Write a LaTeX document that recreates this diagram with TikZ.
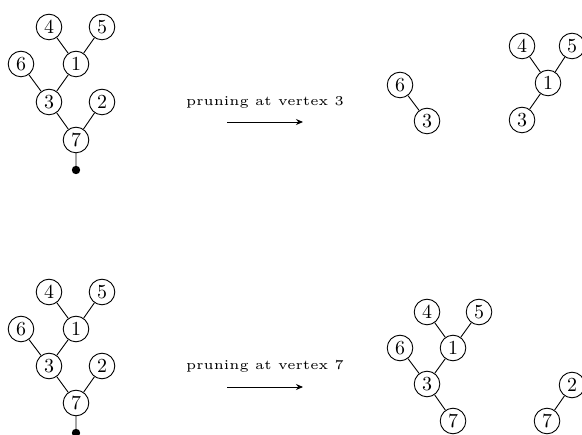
\documentclass[tikz,border=0pt]{standalone}
\usetikzlibrary{arrows.meta}
\begin{document}
\begin{tikzpicture}[x=0.5bp,y=-0.5bp,
  vtx/.style={circle,draw,line width=0.45pt,minimum size=12.8bp,inner sep=0pt,font=\normalsize},
  edge/.style={line width=0.45pt},
  rootdot/.style={circle,fill,inner sep=0pt,minimum size=4.2bp},
  lbl/.style={font=\tiny,inner sep=0pt,scale=1.36},
  arr/.style={line width=0.45pt,-{Stealth[length=3.5bp,width=3bp]}}]
\useasboundingbox (0,0) rectangle (582,435);
\clip (0,0) rectangle (582,435);
% top-left tree
\node[vtx] (a4) at (49,27) {4};
\node[vtx] (a5) at (102,27) {5};
\node[vtx] (a6) at (21,64) {6};
\node[vtx] (a1) at (76,64) {1};
\node[vtx] (a3) at (49,102) {3};
\node[vtx] (a2) at (102,102) {2};
\node[vtx] (a7) at (76,140) {7};
\node[rootdot] (ad) at (76,170) {};
\draw[edge] (a4) -- (a1) (a5) -- (a1) (a1) -- (a3) (a6) -- (a3) (a3) -- (a7) (a2) -- (a7) (a7) -- (ad.center);
% top arrow
\node[lbl] (t1) at (265,102) {pruning at vertex 3};
\coordinate (t1s) at (227,122);
\coordinate (t1e) at (303,122);
\draw[arr] (t1s) -- (t1e);
% top-right results
\node[vtx] (b6) at (400,85) {6};
\node[vtx] (b3) at (427,121) {3};
\draw[edge] (b6) -- (b3);
\node[vtx] (c4) at (522,46) {4};
\node[vtx] (c5) at (572,46) {5};
\node[vtx] (c1) at (548,83) {1};
\node[vtx] (c3) at (522,120) {3};
\draw[edge] (c4) -- (c1) (c5) -- (c1) (c1) -- (c3);
% bottom-left tree
\node[vtx] (d4) at (49,292) {4};
\node[vtx] (d5) at (102,292) {5};
\node[vtx] (d6) at (21,329) {6};
\node[vtx] (d1) at (76,329) {1};
\node[vtx] (d3) at (49,366) {3};
\node[vtx] (d2) at (102,366) {2};
\node[vtx] (d7) at (76,403) {7};
\node[rootdot] (dd) at (76,433) {};
\draw[edge] (d4) -- (d1) (d5) -- (d1) (d1) -- (d3) (d6) -- (d3) (d3) -- (d7) (d2) -- (d7) (d7) -- (dd.center);
% bottom arrow
\node[lbl] (t2) at (265,366) {pruning at vertex 7};
\coordinate (t2s) at (227,387);
\coordinate (t2e) at (303,387);
\draw[arr] (t2s) -- (t2e);
% bottom-right results
\node[vtx] (e4) at (427,312) {4};
\node[vtx] (e5) at (479,312) {5};
\node[vtx] (e6) at (400,348) {6};
\node[vtx] (e1) at (453,348) {1};
\node[vtx] (e3) at (427,384) {3};
\node[vtx] (e7) at (453,421) {7};
\draw[edge] (e4) -- (e1) (e5) -- (e1) (e1) -- (e3) (e6) -- (e3) (e3) -- (e7);
\node[vtx] (f2) at (572,385) {2};
\node[vtx] (f7) at (547,421) {7};
\draw[edge] (f2) -- (f7);
\end{tikzpicture}
\end{document}
